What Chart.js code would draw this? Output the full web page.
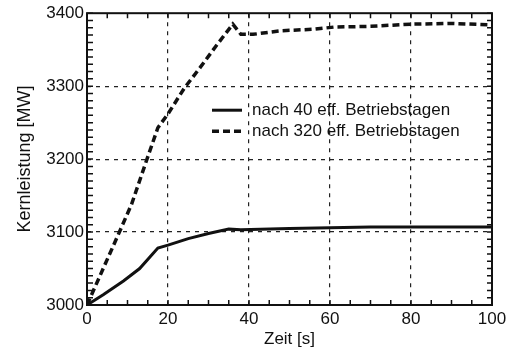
<!DOCTYPE html>
<html>
<head>
<meta charset="utf-8">
<script src="https://cdn.jsdelivr.net/npm/chart.js@4/dist/chart.umd.min.js"></script>
<style>
  html, body { margin: 0; padding: 0; background: #fff; }
  #wrap { width: 517px; height: 358px; }
</style>
</head>
<body>
<div id="wrap"><canvas id="grafico" width="517" height="358"></canvas></div>
<script>
// Werte
const zeit40 = [0, 4, 9, 13, 17.5, 20, 25, 30, 35, 38, 50, 70, 85, 100];
const leistung40 = [3000, 3014, 3033, 3050, 3078, 3082, 3091, 3098, 3104, 3103, 3105, 3107, 3107, 3107];

const zeit320 = [0, 4, 8, 11, 15, 17.5, 20, 24, 28, 32, 36, 38, 41, 48, 56, 61, 70, 80, 90, 100];
const leistung320 = [3000, 3050, 3100, 3138, 3203, 3243, 3262, 3297, 3326, 3356, 3385, 3371, 3371, 3376, 3378, 3381, 3382, 3385, 3386, 3384];

const labels = ["nach 40 eff. Betriebstagen", "nach 320 eff. Betriebstagen"];
const xTicks = [0, 20, 40, 60, 80, 100];
const yTicks = [3000, 3100, 3200, 3300, 3400];
const xMinorStep = 5;
const yMinorStep = 10;

const schrift = "'Liberation Sans', Arial, sans-serif";

// Rahmen und kleine Teilstriche nach innen
const rahmenPlugin = {
    id: 'rahmen',
    beforeDatasetsDraw(chart) {
        const { ctx, chartArea: a, scales: { x, y } } = chart;
        ctx.save();
        ctx.strokeStyle = '#111';
        ctx.lineWidth = 1.5;
        for (let v = xTicks[0]; v <= xTicks[xTicks.length - 1]; v += xMinorStep) {
            const px = x.getPixelForValue(v);
            ctx.beginPath();
            ctx.moveTo(px, a.bottom); ctx.lineTo(px, a.bottom - 5);
            ctx.moveTo(px, a.top); ctx.lineTo(px, a.top + 5);
            ctx.stroke();
        }
        for (let v = yTicks[0]; v <= yTicks[yTicks.length - 1]; v += yMinorStep) {
            const py = y.getPixelForValue(v);
            ctx.beginPath();
            ctx.moveTo(a.left, py); ctx.lineTo(a.left + 6, py);
            ctx.moveTo(a.right, py); ctx.lineTo(a.right - 5, py);
            ctx.stroke();
        }
        ctx.lineWidth = 2;
        ctx.strokeRect(a.left, a.top, a.right - a.left, a.bottom - a.top);
        ctx.restore();
    },
    afterDatasetsDraw(chart) {
        // Legende innerhalb des Diagramms
        const { ctx, chartArea: a } = chart;
        const x0 = a.left + 125;
        const y0 = a.top + 97;
        ctx.save();
        ctx.font = '17px ' + schrift;
        ctx.textBaseline = 'middle';
        ctx.fillStyle = '#111';
        chart.data.datasets.forEach((ds, i) => {
            const yy = y0 + i * 21;
            ctx.strokeStyle = ds.borderColor;
            ctx.lineWidth = ds.borderWidth;
            ctx.setLineDash(ds.borderDash || []);
            ctx.beginPath();
            ctx.moveTo(x0, yy); ctx.lineTo(x0 + 30, yy);
            ctx.stroke();
            ctx.setLineDash([]);
            ctx.fillText(ds.label, x0 + 40, yy);
        });
        ctx.restore();
    }
};

const gitterFarbe = (ctx, werte) => {
    const v = ctx.tick ? ctx.tick.value : null;
    return (v === werte[0] || v === werte[werte.length - 1]) ? 'rgba(0,0,0,0)' : '#222';
};

new Chart(document.getElementById('grafico').getContext('2d'), {
    type: 'line',
    data: {
        datasets: [{
            label: labels[0],
            data: zeit40.map((t, i) => ({ x: t, y: leistung40[i] })),
            borderColor: '#111',
            borderWidth: 3,
            pointRadius: 0,
            fill: false,
        }, {
            label: labels[1],
            data: zeit320.map((t, i) => ({ x: t, y: leistung320[i] })),
            borderColor: '#111',
            borderWidth: 3.5,
            borderDash: [7, 4],
            pointRadius: 0,
            fill: false,
        }]
    },
    options: {
        responsive: false,
        animation: false,
        layout: { padding: { top: 13, right: 25, left: 0, bottom: 0 } },
        plugins: { legend: { display: false }, tooltip: { enabled: false } },
        scales: {
            x: {
                type: 'linear',
                min: xTicks[0],
                max: xTicks[xTicks.length - 1],
                afterBuildTicks: s => { s.ticks = xTicks.map(v => ({ value: v })); },
                afterFit: s => { s.height = 53; },
                ticks: { color: '#111', padding: 4, font: { family: schrift, size: 17 }, callback: v => String(v) },
                grid: { drawTicks: false, lineWidth: 1.2, color: c => gitterFarbe(c, xTicks) },
                border: { display: false, dash: [4, 5] },
                title: { display: true, text: 'Zeit [s]', color: '#111', padding: { bottom: 8, top: 0 }, font: { family: schrift, size: 17 } }
            },
            y: {
                type: 'linear',
                min: yTicks[0],
                max: yTicks[yTicks.length - 1],
                afterBuildTicks: s => { s.ticks = yTicks.map(v => ({ value: v })); },
                afterFit: s => { s.width = 87; },
                ticks: { color: '#111', padding: 3, font: { family: schrift, size: 17 }, callback: v => String(v) },
                grid: { drawTicks: false, lineWidth: 1.2, color: c => gitterFarbe(c, yTicks) },
                border: { display: false, dash: [4, 5] },
                title: { display: true, text: 'Kernleistung [MW]', color: '#111', padding: { top: 14, bottom: 0 }, font: { family: schrift, size: 18 } }
            }
        }
    },
    plugins: [rahmenPlugin]
});
</script>
</body>
</html>
